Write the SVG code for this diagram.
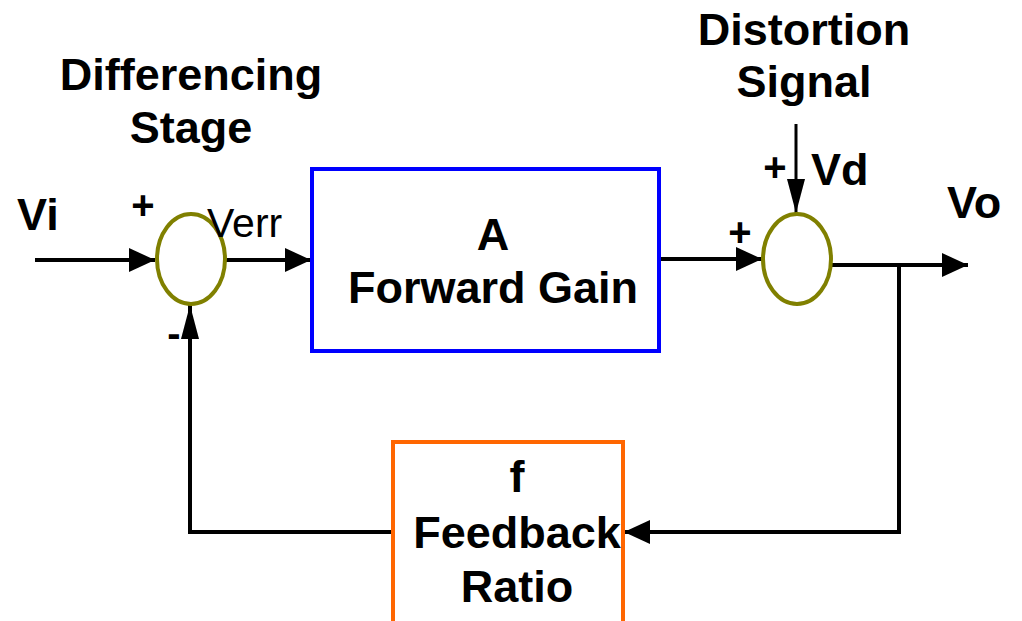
<svg xmlns="http://www.w3.org/2000/svg" width="1022" height="621" viewBox="0 0 1022 621">
<style>
.t{font-family:"Liberation Sans",Arial,sans-serif;font-weight:bold;fill:#000;font-size:45px}
.n{font-family:"Liberation Sans",Arial,sans-serif;font-weight:normal;fill:#000}
.p{font-family:"Liberation Sans",Arial,sans-serif;font-weight:bold;fill:#000;font-size:40px;text-anchor:middle}
.c{text-anchor:middle}
.w{fill:none;stroke:#000;stroke-width:4}
.sum{fill:#fff;stroke:#808000;stroke-width:4}
</style>
<defs>
<marker id="ah" markerUnits="userSpaceOnUse" markerWidth="26" markerHeight="24" refX="26" refY="12" orient="auto"><path d="M0,0 L26,12 L0,24 Z" fill="#000"/></marker>
<marker id="an" markerUnits="userSpaceOnUse" markerWidth="34" markerHeight="18" refX="34" refY="9" orient="auto"><path d="M0,0 L34,9 L0,18 Z" fill="#000"/></marker>
</defs>
<rect width="1022" height="621" fill="#fff"/>
<g id="connectors">
<path class="w" d="M35,260 H155" marker-end="url(#ah)"/>
<path class="w" d="M225,260 H311" marker-end="url(#ah)"/>
<path class="w" d="M659,259 H762" marker-end="url(#ah)"/>
<path class="w" style="stroke-width:3" d="M796,124 V213" marker-end="url(#an)"/>
<path class="w" d="M832,265 H968" marker-end="url(#ah)"/>
<path class="w" d="M899,265 V532 H624" marker-end="url(#ah)"/>
<path class="w" d="M392,532 H190 V305" marker-end="url(#an)"/>
</g>
<g id="sum1"><ellipse class="sum" cx="191" cy="259" rx="34" ry="45"/></g>
<g id="sum2"><ellipse class="sum" cx="797" cy="259" rx="34" ry="45"/></g>
<g id="forward">
<rect x="312" y="169" width="347" height="182" fill="none" stroke="#0000ff" stroke-width="4"/>
<text class="t c" x="493" y="250">A</text>
<text class="t c" x="493" y="303">Forward Gain</text>
</g>
<g id="feedback">
<rect x="393" y="442" width="230" height="185" fill="none" stroke="#ff6600" stroke-width="4"/>
<text class="t c" x="517" y="492">f</text>
<text class="t c" x="517" y="548">Feedback</text>
<text class="t c" x="517" y="602">Ratio</text>
</g>
<g id="labels">
<text class="t c" x="191" y="90">Differencing</text>
<text class="t c" x="191" y="143">Stage</text>
<text class="t c" x="804" y="45">Distortion</text>
<text class="t c" x="804" y="97">Signal</text>
<text class="t" x="17" y="230">Vi</text>
<text class="p" x="143" y="219">+</text>
<text class="n" x="207" y="237" font-size="41">Verr</text>
<text class="p" x="174" y="347">-</text>
<text class="p" x="740" y="246">+</text>
<text class="p" x="775" y="181">+</text>
<text class="t" x="811" y="185">Vd</text>
<text class="t" x="947" y="218">Vo</text>
</g>
</svg>
